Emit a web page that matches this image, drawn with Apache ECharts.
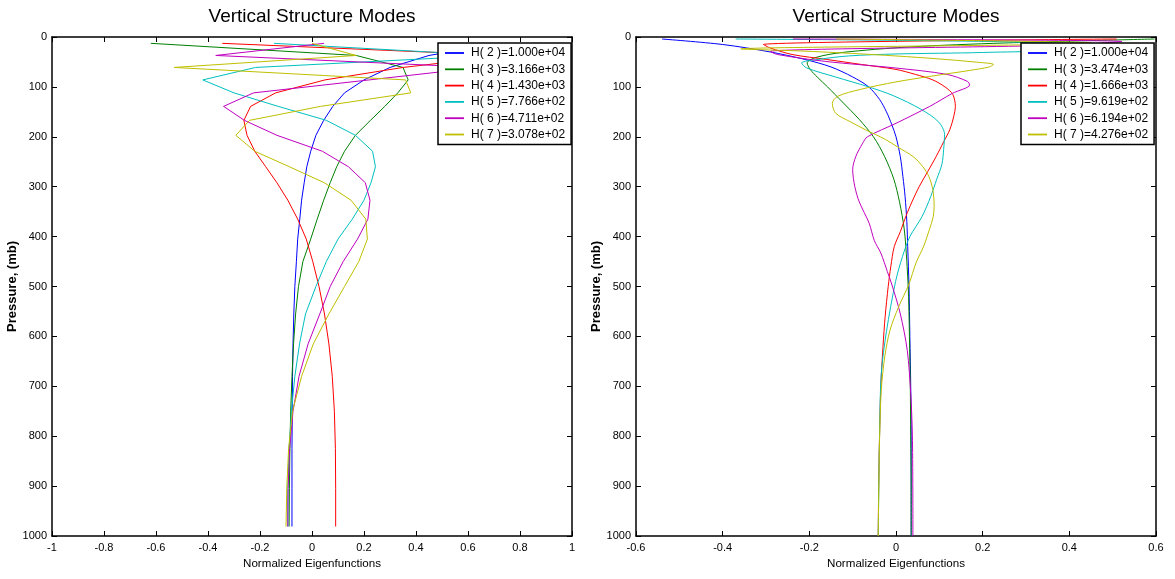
<!DOCTYPE html>
<html><head><meta charset="utf-8">
<script src="https://cdn.jsdelivr.net/npm/echarts@6/dist/echarts.min.js"></script>
<style>html,body{margin:0;padding:0;background:#fff}#c{width:1175px;height:579px}</style>
</head><body><div id="c"></div>
<script>
// ---- legend labels ----
const leftNames = ['H( 2 )=1.000e+04','H( 3 )=3.166e+03','H( 4 )=1.430e+03','H( 5 )=7.766e+02','H( 6 )=4.711e+02','H( 7 )=3.078e+02'];
const rightNames = ['H( 2 )=1.000e+04','H( 3 )=3.474e+03','H( 4 )=1.666e+03','H( 5 )=9.619e+02','H( 6 )=6.194e+02','H( 7 )=4.276e+02'];
const colors = ['#0000ff','#008000','#ff0000','#00bfbf','#bf00bf','#bfbf00'];

// ---- left panel: pressure levels (mb) and mode values ----
const leftLevels = [12.7, 37, 61, 86, 112, 139, 167, 197, 229, 260, 292, 327, 365, 405, 450, 500, 555, 615, 680, 750, 825, 905, 981];
const leftH2 = [0.72, 0.45, 0.30, 0.20, 0.125, 0.08, 0.045, 0.015, -0.005, -0.02, -0.03, -0.04, -0.047, -0.055, -0.06, -0.066, -0.07, -0.073, -0.075, -0.076, -0.077, -0.077, -0.077];
const leftH3 = [-0.62, 0.17, 0.35, 0.37, 0.33, 0.28, 0.225, 0.167, 0.125, 0.095, 0.07, 0.045, 0.02, -0.005, -0.035, -0.052, -0.063, -0.071, -0.077, -0.082, -0.085, -0.087, -0.088];
const leftH4 = [-0.345, 0.75, 0.35, 0.05, -0.14, -0.236, -0.262, -0.25, -0.22, -0.178, -0.135, -0.093, -0.055, -0.022, 0.003, 0.027, 0.048, 0.065, 0.078, 0.086, 0.09, 0.091, 0.091];
const leftH5 = [-0.146, 0.69, -0.217, -0.42, -0.30, -0.13, 0.055, 0.167, 0.233, 0.244, 0.227, 0.2, 0.155, 0.1, 0.055, 0.015, -0.025, -0.048, -0.066, -0.079, -0.088, -0.093, -0.093];
const leftH6 = [0.046, -0.37, 0.645, 0.22, -0.225, -0.34, -0.26, -0.135, 0.04, 0.14, 0.205, 0.223, 0.215, 0.175, 0.12, 0.07, 0.03, -0.015, -0.05, -0.073, -0.086, -0.092, -0.093];
const leftH7 = [0.0, 0.17, -0.53, 0.36, 0.38, 0.033, -0.24, -0.293, -0.22, -0.087, 0.047, 0.15, 0.207, 0.213, 0.18, 0.125, 0.065, 0.005, -0.04, -0.075, -0.09, -0.097, -0.1];

// ---- right panel: per-mode pressure levels and values ----
const rightH2P = [4, 15, 30, 45, 60, 80, 100, 125, 150, 175, 200, 240, 280, 320, 370, 420, 500, 600, 700, 800, 900, 1000];
const rightH2 = [-0.54, -0.40, -0.29, -0.21, -0.15, -0.10, -0.063, -0.038, -0.022, -0.01, 0.0, 0.01, 0.016, 0.021, 0.025, 0.027, 0.03, 0.032, 0.034, 0.035, 0.035, 0.035];
const rightH3P = [4, 12, 20, 31, 41, 52, 65, 80, 100, 130, 165, 200, 240, 285, 330, 385, 450, 520, 600, 700, 800, 900, 1000];
const rightH3 = [0.597, 0.25, 0.03, -0.124, -0.185, -0.205, -0.198, -0.182, -0.158, -0.124, -0.085, -0.052, -0.026, -0.005, 0.008, 0.019, 0.025, 0.029, 0.031, 0.033, 0.034, 0.035, 0.035];
const rightH4P = [4, 15, 22, 35, 45, 55, 65, 75, 86, 100, 115, 139, 160, 186, 210, 239, 270, 299, 330, 359, 390, 420, 460, 500, 560, 620, 700, 800, 900, 1000];
const rightH4 = [0.509, -0.306, -0.29, -0.24, -0.16, -0.08, 0.0, 0.045, 0.085, 0.113, 0.131, 0.137, 0.133, 0.124, 0.11, 0.093, 0.073, 0.054, 0.037, 0.023, 0.01, -0.004, -0.012, -0.018, -0.025, -0.03, -0.035, -0.038, -0.04, -0.041];
const rightH5P = [4, 14, 24, 31, 34, 38, 45, 52, 62, 80, 100, 118, 145, 170, 195, 225, 255, 285, 320, 360, 400, 440, 490, 590, 675, 800, 1000];
const rightH5 = [-0.37, 0.4, 0.4, 0.2, 0.0, -0.11, -0.18, -0.218, -0.206, -0.14, -0.063, -0.005, 0.058, 0.098, 0.112, 0.11, 0.106, 0.094, 0.08, 0.06, 0.032, 0.015, -0.001, -0.022, -0.034, -0.038, -0.041];
const rightH6P = [4, 9, 16, 29, 35, 49, 62, 75, 89, 96, 113, 139, 173, 200, 213, 240, 266, 300, 330, 373, 408, 433, 470, 495, 555, 628, 715, 808, 1000];
const rightH6 = [-0.238, 0.521, 0.4, -0.29, -0.274, -0.162, -0.002, 0.118, 0.165, 0.17, 0.13, 0.078, 0.0, -0.066, -0.077, -0.093, -0.1, -0.095, -0.085, -0.062, -0.05, -0.035, -0.02, -0.01, 0.01, 0.026, 0.034, 0.038, 0.039];
const rightH7P = [4, 12, 15, 24, 28, 33, 38, 44, 50, 55, 60, 67, 79, 90, 105, 119, 133, 153, 170, 186, 205, 220, 240, 260, 280, 306, 339, 360, 386, 419, 453, 495, 541, 588, 641, 708, 808, 1000];
const rightH7 = [-0.138, 0.45, 0.35, -0.358, -0.22, -0.1, 0.0, 0.1, 0.18, 0.225, 0.215, 0.17, 0.078, 0.0, -0.082, -0.135, -0.147, -0.139, -0.105, -0.07, -0.025, 0.003, 0.04, 0.062, 0.076, 0.085, 0.088, 0.086, 0.077, 0.064, 0.046, 0.03, 0.006, -0.014, -0.026, -0.034, -0.038, -0.041];

// ---- axis ranges / labels ----
const leftXRange = [-1, 1];
const rightXRange = [-0.6, 0.6];
const pressureRange = [0, 1000];
const titleText = 'Vertical Structure Modes';
const xName = 'Normalized Eigenfunctions';
const yName = 'Pressure, (mb)';

const FONT = 'Liberation Sans, Arial, Helvetica, sans-serif';

const leftSets = [leftH2, leftH3, leftH4, leftH5, leftH6, leftH7].map(v => ({P: leftLevels, V: v}));
const rightSets = [
  {P: rightH2P, V: rightH2}, {P: rightH3P, V: rightH3}, {P: rightH4P, V: rightH4},
  {P: rightH5P, V: rightH5}, {P: rightH6P, V: rightH6}, {P: rightH7P, V: rightH7}
];

function fmt(v) { return String(Math.round(v * 1000) / 1000); }

function xAxisCfg(grid, range, pos, labels) {
  return {
    type: 'value', gridIndex: grid, position: pos, min: range[0], max: range[1], interval: 0.2,
    axisLine: {show: true, onZero: false, lineStyle: {color: '#000', width: 1.5}},
    axisTick: {show: true, inside: true, length: 5, lineStyle: {color: '#000', width: 1}},
    splitLine: {show: false},
    axisLabel: {show: labels, color: '#000', fontSize: 11, fontFamily: FONT, margin: 6, formatter: fmt},
    name: labels ? xName : '', nameLocation: 'middle', nameGap: 22,
    nameTextStyle: {color: '#000', fontSize: 11.6, fontFamily: FONT}
  };
}
function yAxisCfg(grid, pos, labels) {
  return {
    type: 'value', gridIndex: grid, position: pos, min: pressureRange[0], max: pressureRange[1], interval: 100, inverse: true,
    axisLine: {show: true, onZero: false, lineStyle: {color: '#000', width: 1.5}},
    axisTick: {show: true, inside: true, length: 5, lineStyle: {color: '#000', width: 1}},
    splitLine: {show: false},
    axisLabel: {show: labels, color: '#000', fontSize: 11, fontFamily: FONT, margin: 5, formatter: fmt},
    name: labels ? yName : '', nameLocation: 'middle', nameGap: 30,
    nameTextStyle: {color: '#000', fontSize: 13, fontWeight: 'bold', fontFamily: FONT}
  };
}
function mkSeries(name, color, set, xi, yi, smooth) {
  return {
    type: 'line', name: name, xAxisIndex: xi, yAxisIndex: yi,
    data: set.P.map((p, i) => [set.V[i], p]),
    symbol: 'none', showSymbol: false, smooth: smooth,
    lineStyle: {color: color, width: 1}, itemStyle: {color: color},
    animation: false
  };
}
function legendCfg(left, names) {
  return {
    data: names, orient: 'vertical', left: left, top: 43,
    backgroundColor: '#fff', borderColor: '#000', borderWidth: 1.5,
    padding: [4, 6, 4, 7], itemGap: 4.3, itemWidth: 19, itemHeight: 1.8,
    icon: 'rect',
    textStyle: {color: '#000', fontSize: 12, fontFamily: FONT, lineHeight: 12, padding: [0, 0, 0, 2]},
    selectedMode: false
  };
}

const series = [];
leftSets.forEach((s, i) => series.push(mkSeries(leftNames[i], colors[i], s, 0, 0, false)));
rightSets.forEach((s, i) => series.push(mkSeries(rightNames[i], colors[i], s, 2, 2, 0.3)));

const chart = echarts.init(document.getElementById('c'), null, {renderer: 'canvas'});
chart.setOption({
  animation: false,
  backgroundColor: '#fff',
  grid: [
    {left: 52, top: 37, width: 520, height: 499},
    {left: 636, top: 37, width: 520, height: 499}
  ],
  xAxis: [
    xAxisCfg(0, leftXRange, 'bottom', true), xAxisCfg(0, leftXRange, 'top', false),
    xAxisCfg(1, rightXRange, 'bottom', true), xAxisCfg(1, rightXRange, 'top', false)
  ],
  yAxis: [
    yAxisCfg(0, 'left', true), yAxisCfg(0, 'right', false),
    yAxisCfg(1, 'left', true), yAxisCfg(1, 'right', false)
  ],
  legend: [legendCfg(438, leftNames), legendCfg(1021, rightNames)],
  graphic: [
    {type: 'text', x: 312, y: 17, style: {text: titleText, font: '19px ' + FONT, fill: '#000', align: 'center', verticalAlign: 'middle', textAlign: 'center', textVerticalAlign: 'middle'}},
    {type: 'text', x: 896, y: 17, style: {text: titleText, font: '19px ' + FONT, fill: '#000', align: 'center', verticalAlign: 'middle', textAlign: 'center', textVerticalAlign: 'middle'}}
  ],
  series: series
});
</script></body></html>
